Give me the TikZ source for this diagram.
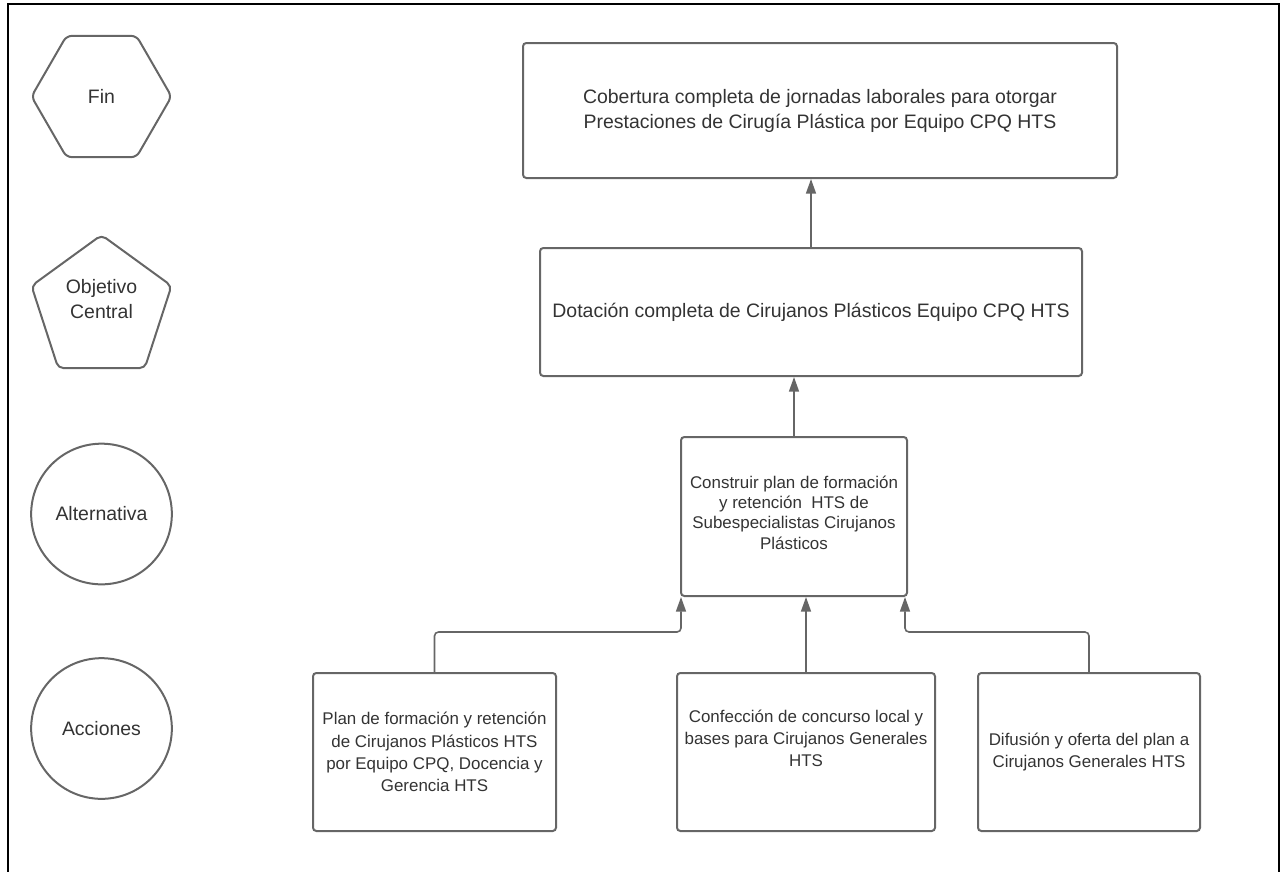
\documentclass[tikz,border=0pt]{standalone}
\usepackage{fontspec}
\setmainfont{Liberation Sans}
\usetikzlibrary{shapes.geometric,arrows.meta,calc}
\definecolor{edge}{HTML}{666666}
\definecolor{ink}{HTML}{333333}
\begin{document}
\begin{tikzpicture}[x=0.75pt,y=-0.75pt,
  box/.style={draw=edge,line width=1.5pt,rounded corners=2.5pt,align=center,
    text=ink,inner sep=0pt,minimum height=118.5pt},
  big/.style={font=\fontsize{14.6}{18.75}\selectfont},
  small/.style={font=\fontsize{12.7}{16.7}\selectfont},
  txt/.style={align=center,text=ink,inner sep=0pt},
  legend/.style={draw=edge,line width=1.5pt,inner sep=0pt,text=ink,
    font=\fontsize{14.6}{18.75}\selectfont,align=center},
  hexa/.style={legend,regular polygon,regular polygon sides=6,
    minimum size=105pt,rounded corners=4pt},
  penta/.style={legend,regular polygon,regular polygon sides=5,
    minimum size=110.4pt,rounded corners=4pt},
  disc/.style={legend,circle,minimum size=105.5pt},
  conn/.style={draw=edge,line width=1.2pt,rounded corners=3pt,
    -{Triangle[length=11pt,width=7.5pt]}}]

\useasboundingbox (0,0) rectangle (1281,871);

% outer frame, open at the bottom
\draw[black,line width=1.8pt] (8,873) -- (8,4) -- (1279,4) -- (1279,873);

% legend column
\node[hexa] (fin) at (101.5,96.5) {Fin};
\node[penta] (obj) at (101.5,308.6) {};
\node[txt,font=\fontsize{14.6}{18.75}\selectfont] (objtxt) at (101.5,299) {Objetivo\\Central};
\node[disc] (alt) at (101.5,514) {Alternativa};
\node[disc] (acc) at (101.5,728.5) {Acciones};

% tree of boxes
\node[box,big,minimum width=445.5pt,minimum height=101.25pt] (b1) at (820,110.5)
  {Cobertura completa de jornadas laborales para otorgar\\Prestaciones de Cirugía Plástica por Equipo CPQ HTS};
\node[box,big,minimum width=406.5pt,minimum height=96pt] (b2) at (811,312)
  {Dotación completa de Cirujanos Plásticos Equipo CPQ HTS};
\node[box,minimum width=169.5pt,minimum height=119.25pt] (b3) at (794,516.5) {};
\node[txt,font=\fontsize{12.7}{15.2}\selectfont] (b3txt) at (794,512.5)
  {Construir plan de formación\\y retención \ HTS de\\Subespecialistas Cirujanos\\Plásticos};
\node[box,small,minimum width=182.25pt] (b4) at (434.5,752)
  {Plan de formación y retención\\de Cirujanos Plásticos HTS\\por Equipo CPQ, Docencia y\\Gerencia HTS};
\node[box,minimum width=193.5pt] (b5) at (806,752) {};
\node[txt,small] (b5txt) at (806,738.5)
  {Confección de concurso local y\\bases para Cirujanos Generales\\HTS};
\node[box,small,minimum width=166.5pt] (b6) at (1089,752)
  {Difusión y oferta del plan a\\Cirujanos Generales HTS};

% connectors
\draw[conn] (b2.north) -- (b2.north |- b1.south);
\draw[conn] (b3.north) -- (b3.north |- b2.south);
\draw[conn] (b5.north) -- (b5.north |- b3.south);
\draw[conn] (b4.north) -- ++(0,-40) -| ([xshift=0.75pt]b3.south west);
\draw[conn] (b6.north) -- ++(0,-40) -| ([xshift=-2.25pt]b3.south east);
\end{tikzpicture}
\end{document}
